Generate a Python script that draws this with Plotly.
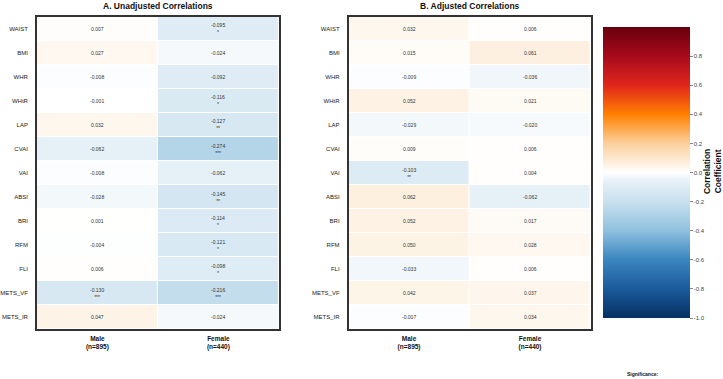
import plotly.graph_objects as go

indices = ["WAIST", "BMI", "WHR", "WHtR", "LAP", "CVAI", "VAI", "ABSI", "BRI", "RFM", "FLI", "METS_VF", "METS_IR"]
groups = ["<b>Male</b><br><b>(n=895)</b>", "<b>Female</b><br><b>(n=440)</b>"]

unadj_male = [0.007, 0.027, -0.008, -0.001, 0.032, -0.062, -0.008, -0.028, 0.001, -0.004, 0.006, -0.130, 0.047]
unadj_female = [-0.095, -0.024, -0.092, -0.116, -0.127, -0.274, -0.062, -0.145, -0.114, -0.121, -0.098, -0.216, -0.024]
unadj_male_sig = ["", "", "", "", "", "", "", "", "", "", "", "***", ""]
unadj_female_sig = ["*", "", "", "*", "**", "***", "", "**", "*", "*", "*", "***", ""]

adj_male = [0.032, 0.015, -0.009, 0.052, -0.029, 0.009, -0.103, 0.062, 0.052, 0.050, -0.033, 0.042, -0.007]
adj_female = [0.006, 0.061, -0.036, 0.021, -0.020, 0.006, 0.004, -0.062, 0.017, 0.028, 0.006, 0.037, 0.034]
adj_male_sig = ["", "", "", "", "", "", "**", "", "", "", "", "", ""]
adj_female_sig = ["", "", "", "", "", "", "", "", "", "", "", "", ""]

colorscale = [
    [0.0, "#053061"],
    [0.1, "#1b5a9c"],
    [0.2, "#3a85c0"],
    [0.3, "#8fc0de"],
    [0.4, "#c9e0ee"],
    [0.47, "#e6f0f7"],
    [0.5, "#ffffff"],
    [0.53, "#fdf0e0"],
    [0.6, "#fcd09c"],
    [0.7, "#ff8000"],
    [0.8, "#e0261c"],
    [0.9, "#a80a1c"],
    [1.0, "#67000d"],
]

FONT = "Liberation Sans, Arial, sans-serif"
W, H = 723, 379

fig = go.Figure()

panels = [
    (unadj_male, unadj_female, unadj_male_sig, unadj_female_sig, "x", "y", False),
    (adj_male, adj_female, adj_male_sig, adj_female_sig, "x2", "y2", True),
]

annotations = []
for m, f, ms, fs, xa, ya, showbar in panels:
    z = [[m[i], f[i]] for i in range(len(indices))]
    fig.add_trace(go.Heatmap(
        z=z, x=groups, y=indices, xaxis=xa, yaxis=ya,
        colorscale=colorscale, zmin=-1, zmax=1,
        xgap=1, ygap=1, showscale=showbar, hoverinfo="skip",
        colorbar=dict(
            x=603 / W, xanchor="left", xpad=0,
            y=1 - 172.5 / H, yanchor="middle",
            thickness=87, thicknessmode="pixels",
            len=311, lenmode="pixels",
            outlinewidth=0,
            tickvals=[-1.0, -0.8, -0.6, -0.4, -0.2, 0.0, 0.2, 0.4, 0.6, 0.8],
            ticktext=["-1.0", "-0.8", "-0.6", "-0.4", "-0.2", "0.0", "0.2", "0.4", "0.6", "0.8"],
            ticks="outside", ticklen=3, tickcolor="#888",
            tickfont=dict(size=6, color="#444", family=FONT),
        ),
    ))
    for i, name in enumerate(indices):
        for j, (vals, sigs) in enumerate(((m, ms), (f, fs))):
            v = vals[i]
            s = sigs[i]
            txt = f"{v:.3f}"
            if s:
                txt = txt + "<br>" + s
            annotations.append(dict(
                x=groups[j], y=name, xref=xa, yref=ya, text=txt,
                showarrow=False, font=dict(size=5, color="#333", family=FONT),
            ))

axis_common = dict(showline=True, mirror=True, linecolor="#333", linewidth=1.5,
                   ticks="", showgrid=False, zeroline=False)

fig.update_layout(
    width=W, height=H,
    margin=dict(l=0, r=0, t=0, b=0),
    paper_bgcolor="white", plot_bgcolor="white",
    font=dict(family=FONT),
    xaxis=dict(domain=[34 / W, 277 / W], anchor="y", ticklabelstandoff=2,
               tickfont=dict(size=6.5, color="#111", family=FONT), **axis_common),
    yaxis=dict(domain=[1 - 329 / H, 1 - 17 / H], anchor="x", autorange="reversed", ticklabelstandoff=6,
               tickfont=dict(size=6, color="#222", family=FONT), **axis_common),
    xaxis2=dict(domain=[347 / W, 590 / W], anchor="y2", ticklabelstandoff=2,
                tickfont=dict(size=6.5, color="#111", family=FONT), **axis_common),
    yaxis2=dict(domain=[1 - 329 / H, 1 - 17 / H], anchor="x2", autorange="reversed", ticklabelstandoff=6,
                tickfont=dict(size=6, color="#222", family=FONT), **axis_common),
)

annotations += [
    dict(x=155.5 / W, y=1 - 6 / H, xref="paper", yref="paper", text="<b>A. Unadjusted Correlations</b>",
         showarrow=False, font=dict(size=8.5, color="#111", family=FONT), xanchor="center", yanchor="middle"),
    dict(x=468.5 / W, y=1 - 6 / H, xref="paper", yref="paper", text="<b>B. Adjusted Correlations</b>",
         showarrow=False, font=dict(size=8.5, color="#111", family=FONT), xanchor="center", yanchor="middle"),
    dict(x=713 / W, y=1 - 172 / H, xref="paper", yref="paper", text="<b>Correlation<br>Coefficient</b>",
         showarrow=False, textangle=-90, font=dict(size=8.5, color="#111", family=FONT),
         xanchor="center", yanchor="middle"),
    dict(x=642 / W, y=1 - 374 / H, xref="paper", yref="paper", text="<b>Significance:</b>",
         showarrow=False, font=dict(size=5, color="#111", family=FONT), xanchor="center", yanchor="middle"),
]
fig.update_layout(annotations=annotations)

fig.write_html("out.html")
